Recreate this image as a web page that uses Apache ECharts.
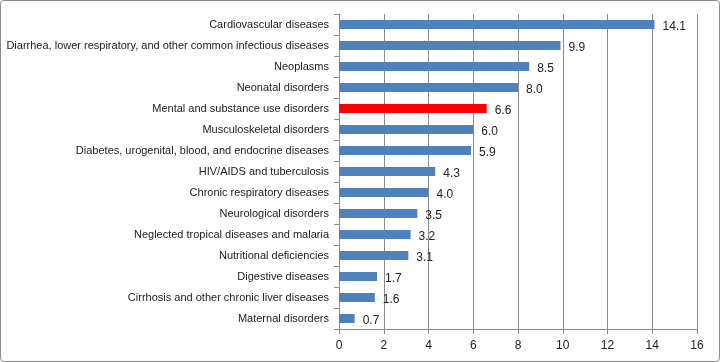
<!DOCTYPE html>
<html><head><meta charset="utf-8">
<script src="https://cdn.jsdelivr.net/npm/echarts@6/dist/echarts.min.js"></script>
<style>
html,body{margin:0;padding:0;background:#fff;}
#c{width:718px;height:360px;border:1px solid #8c8c8c;border-radius:4px;}
</style></head><body>
<div id="c"></div>
<script>
const categories = [
  "Cardiovascular diseases",
  "Diarrhea, lower respiratory, and other common infectious diseases",
  "Neoplasms",
  "Neonatal disorders",
  "Mental and substance use disorders",
  "Musculoskeletal disorders",
  "Diabetes, urogenital, blood, and endocrine diseases",
  "HIV/AIDS and tuberculosis",
  "Chronic respiratory diseases",
  "Neurological disorders",
  "Neglected tropical diseases and malaria",
  "Nutritional deficiencies",
  "Digestive diseases",
  "Cirrhosis and other chronic liver diseases",
  "Maternal disorders"
];
const values = [14.1, 9.9, 8.5, 8.0, 6.6, 6.0, 5.9, 4.3, 4.0, 3.5, 3.2, 3.1, 1.7, 1.6, 0.7];
const highlight = "Mental and substance use disorders";
const xTicks = [0, 2, 4, 6, 8, 10, 12, 14, 16];

const chart = echarts.init(document.getElementById('c'));
chart.setOption({
  animation: false,
  grid: {left: 338, right: 22, top: 13, bottom: 32, containLabel: false},
  xAxis: {
    type: 'value', min: xTicks[0], max: xTicks[xTicks.length-1], interval: 2,
    axisLine: {show: true, lineStyle: {color: '#8c8c8c'}},
    axisTick: {show: true, length: 5, lineStyle: {color: '#8c8c8c'}},
    splitLine: {show: true, lineStyle: {color: '#8c8c8c'}},
    axisLabel: {color: '#222', fontFamily: 'Liberation Sans', fontSize: 12, margin: 11}
  },
  yAxis: {
    type: 'category', inverse: true, data: categories,
    axisLine: {show: true, lineStyle: {color: '#8c8c8c'}},
    axisTick: {show: true, length: 5, inside: false, lineStyle: {color: '#8c8c8c'}},
    axisLabel: {color: '#222', fontFamily: 'Liberation Sans', fontSize: 11, margin: 10}
  },
  series: [{
    type: 'bar', barWidth: 9,
    data: values.map((v, i) => ({
      value: v,
      itemStyle: {color: categories[i] === highlight ? '#ff0000' : '#4f81bd'}
    })),
    label: {
      show: true, position: 'right', distance: 8, offset: [0, 2],
      color: '#222', fontFamily: 'Liberation Sans', fontSize: 12,
      formatter: p => p.value.toFixed(1)
    }
  }]
});
</script></body></html>
